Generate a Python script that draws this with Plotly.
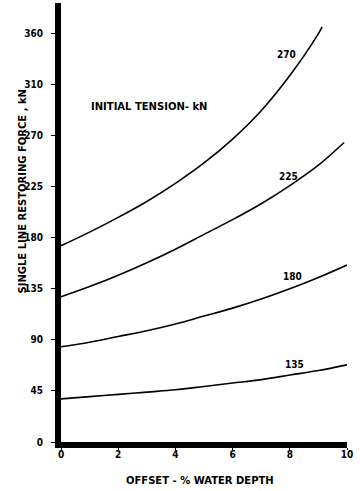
import plotly.graph_objects as go

# Offset as a percentage of water depth
offset = [0, 1, 2, 3, 4, 5, 6, 7, 8, 9, 10]

# Single-line restoring force (kN) for each initial tension
force_135 = [38, 40, 42, 44, 46, 49, 52, 55, 59, 63, 68]
force_180 = [84, 88, 93, 98, 104, 111, 118, 126, 135, 145, 156]
offset_225 = [0, 1, 2, 3, 4, 5, 6, 7, 8, 9, 9.9]
force_225 = [128, 137, 147, 158, 170, 183, 196, 210, 226, 244, 264]
offset_270 = [0, 1, 2, 3, 4, 5, 6, 7, 8, 9, 9.13]
force_270 = [173, 185, 198, 212, 228, 246, 267, 292, 323, 360, 366]

curve_labels = ["270", "225", "180", "135"]
label_x = [7.9, 7.97, 8.08, 8.15]
label_y = [342, 234, 146, 68]

y_tickvals = [0, 45, 90, 135, 180, 225, 270, 315, 360]
y_ticktext = ["0", "45", "90", "135", "180", "225", "270", "310", "360"]
x_tickvals = [0, 2, 4, 6, 8, 10]

NUM_FONT = "DejaVu Sans Condensed, DejaVu Sans, sans-serif"
TXT_FONT = "DejaVu Sans, sans-serif"

fig = go.Figure()
for xs, ys in [(offset_270, force_270), (offset_225, force_225),
               (offset, force_180), (offset, force_135)]:
    fig.add_trace(go.Scatter(
        x=xs, y=ys, mode="lines",
        line=dict(color="black", width=1.6, shape="spline", smoothing=1.0),
        showlegend=False, hoverinfo="skip"))

for txt, lx, ly in zip(curve_labels, label_x, label_y):
    fig.add_annotation(x=lx, y=ly, text="<b>" + txt + "</b>", showarrow=False,
                       font=dict(family=NUM_FONT, size=10, color="black"))

fig.add_annotation(x=0.98, y=296, xanchor="left", text="<b>INITIAL TENSION- kN</b>",
                   showarrow=False, font=dict(family=TXT_FONT, size=10, color="black"))

fig.add_annotation(xref="paper", yref="paper", x=-0.16, y=0.57,
                   text="<b>SINGLE LINE RESTORING FORCE , kN</b>", textangle=-90,
                   showarrow=False, font=dict(family=TXT_FONT, size=10, color="black"))

fig.add_annotation(xref="paper", yref="paper", x=0.487, y=-0.087,
                   xanchor="center", yanchor="middle",
                   text="<b>OFFSET - % WATER DEPTH</b>", showarrow=False,
                   font=dict(family=TXT_FONT, size=10, color="black"))

fig.update_layout(
    width=360, height=491,
    margin=dict(l=61, r=13, t=3, b=49),
    paper_bgcolor="white", plot_bgcolor="white",
    xaxis=dict(range=[0, 10], tickvals=x_tickvals, showgrid=False, zeroline=False,
               showline=True, linecolor="black", linewidth=6,
               ticks="outside", ticklen=2, tickwidth=1, tickcolor="black",
               ticklabelstandoff=-4,
               tickfont=dict(family=NUM_FONT, size=10, color="black"),
               ticktext=[f"<b>{v}</b>" for v in x_tickvals]),
    yaxis=dict(range=[0, 387], tickvals=y_tickvals,
               ticktext=[f"<b>{t}</b>" for t in y_ticktext],
               showgrid=False, zeroline=False,
               showline=True, linecolor="black", linewidth=6,
               ticks="outside", ticklen=4, tickwidth=1, tickcolor="black",
               ticklabelstandoff=6,
               tickfont=dict(family=NUM_FONT, size=10, color="black")),
)

fig.write_html("out.html")
